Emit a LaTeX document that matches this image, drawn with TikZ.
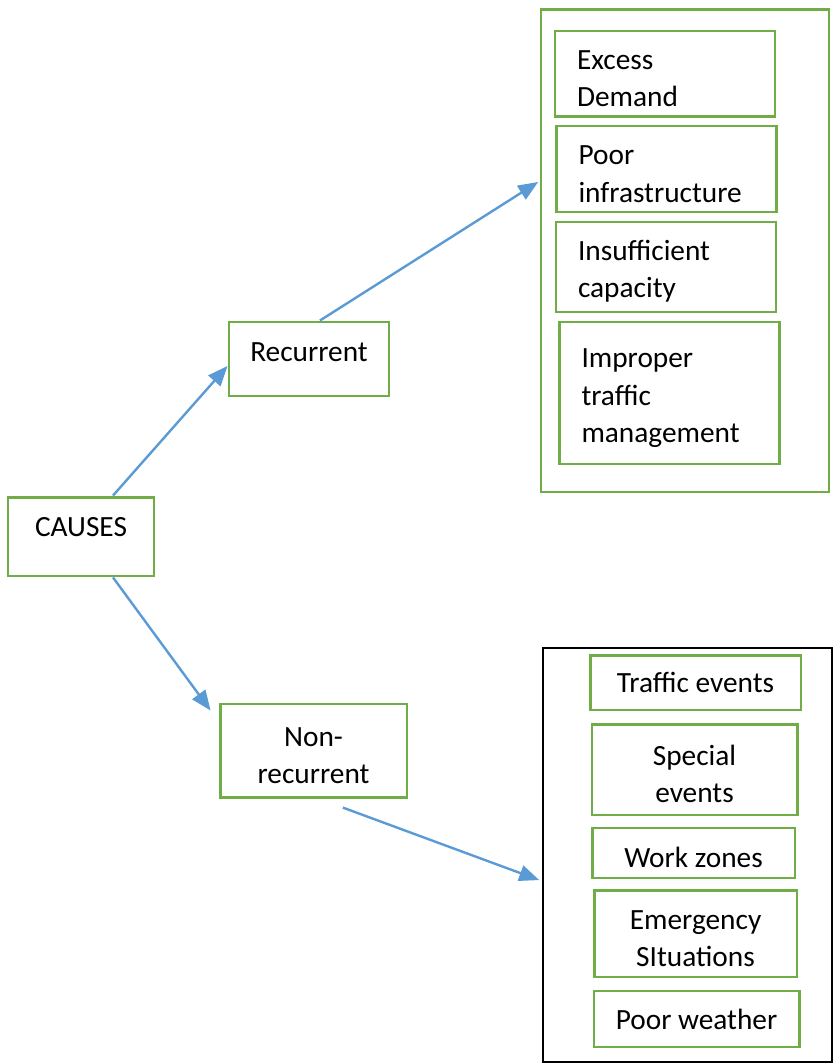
\documentclass[tikz,border=0pt]{standalone}
\usepackage{fontspec}
\setmainfont{Carlito}
\usetikzlibrary{arrows.meta}
\definecolor{boxGreen}{HTML}{70AD47}
\definecolor{linkBlue}{HTML}{5B9BD5}
% extra room above the first text line
\newcommand{\topgap}{\rule{0pt}{11pt}}
\tikzset{
  causeNode/.style={rectangle,draw=boxGreen,line width=1.1pt,inner sep=2pt,
    font=\fontsize{11}{14}\selectfont,align=center},
  itemLeft/.style={causeNode,align=left,text width=66pt,inner xsep=8.25pt},
  groupBox/.style={rectangle,draw=boxGreen,line width=1.1pt,inner sep=0pt},
  link/.style={draw=linkBlue,line width=0.9pt,-{Triangle[length=7.5pt,width=6pt]}}
}

\begin{document}
\begin{tikzpicture}[x=0.375pt,y=-0.375pt]
  \useasboundingbox (0,0) rectangle (833,1064);
  % main causes
  \node[causeNode,minimum width=54.75pt,minimum height=29.6pt,text depth=7.2pt] (causes) at (81,536.5) {CAUSES};
  \node[causeNode,minimum width=60pt,minimum height=27.75pt,text depth=5.2pt] (recurrent) at (309,359) {Recurrent};
  \node[causeNode,minimum width=70.1pt,minimum height=34.9pt] (nonrec) at (313.5,750.5) {\topgap Non-\\recurrent};

  % recurrent group
  \node[groupBox,minimum width=108pt,minimum height=181.1pt] (recGroup) at (685,250.5) {};
  \node[itemLeft,minimum height=31.9pt] (excess) at (665,73.5) {\topgap Excess\\Demand};
  \node[itemLeft,minimum height=32.25pt] (poorInfra) at (666.5,169) {\topgap Poor\\infrastructure};
  \node[itemLeft,minimum height=33.75pt] (insuff) at (666,267) {\topgap Insufficient\\capacity};
  \node[itemLeft,minimum height=53.25pt] (improper) at (669.5,393) {\topgap Improper\\traffic\\management};

  % non-recurrent group
  \node[groupBox,draw=black,line width=0.8pt,minimum width=108.4pt,minimum height=155.25pt] (nonrecGroup) at (687.5,855) {};
  \node[causeNode,minimum width=79.1pt,minimum height=20.6pt] (traffic) at (695.5,682.5) {Traffic events};
  \node[causeNode,minimum width=76.9pt,minimum height=34.1pt] (special) at (694.5,769.5) {\topgap Special\\events};
  \node[causeNode,minimum width=76.1pt,minimum height=18.75pt] (work) at (693.5,853) {\topgap Work zones};
  \node[causeNode,minimum width=76.1pt,minimum height=32.6pt] (emergency) at (695.5,933.5) {\topgap Emergency\\SItuations};
  \node[causeNode,minimum width=76.9pt,minimum height=21pt] (weather) at (696.5,1019) {Poor weather};

  \draw[link] ([xshift=12pt]causes.north) -- ([yshift=-2.6pt]recurrent.west);
  \draw[link] ([xshift=4.1pt]recurrent.north) -- ([xshift=-0.5pt,yshift=25.7pt]recGroup.west);
  \draw[link] ([xshift=12pt]causes.south) -- ([xshift=-3pt,yshift=-3pt]nonrec.north west);
  \draw[link] ([xshift=11pt,yshift=-3.4pt]nonrec.south) -- ([xshift=-1pt,yshift=-9.4pt]nonrecGroup.west);
\end{tikzpicture}
\end{document}
